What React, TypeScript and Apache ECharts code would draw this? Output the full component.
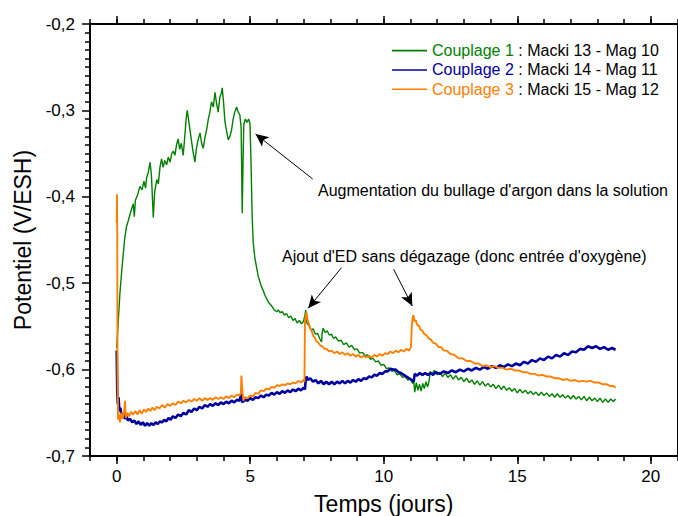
import React, { useEffect, useRef } from "react";
import * as echarts from "echarts";

const FONT = '"Liberation Sans", Arial, sans-serif';

const seriesNames = ["Couplage 1", "Couplage 2", "Couplage 3"];
const seriesDescs = [" : Macki 13 - Mag 10", " : Macki 14 - Mag 11", " : Macki 15 - Mag 12"];
const seriesColors = ["#008000", "#0000a0", "#ff8000"];
const seriesWidths = [1.4, 2.6, 1.9];

const xMajorTicks = [0, 5, 10, 15, 20];
const xMinorTicks = [-1, 0, 1, 2, 3, 4, 5, 6, 7, 8, 9, 10, 11, 12, 13, 14, 15, 16, 17, 18, 19, 20, 21];

// Couplage 1 : Macki 13 - Mag 10  [jours, V/ESH]
const couplage1: [number, number][] = [
  [0, -0.575], [0.03, -0.56], [0.06, -0.543], [0.12, -0.512], [0.19, -0.485], [0.25, -0.465],
  [0.3, -0.448], [0.37, -0.434], [0.43, -0.428], [0.5, -0.42], [0.56, -0.414], [0.62, -0.408],
  [0.66, -0.423], [0.7, -0.404], [0.78, -0.398], [0.87, -0.388], [0.95, -0.392], [1.02, -0.382],
  [1.08, -0.39], [1.12, -0.378], [1.18, -0.372], [1.25, -0.36], [1.3, -0.375], [1.37, -0.424],
  [1.42, -0.395], [1.5, -0.38], [1.56, -0.385], [1.62, -0.366], [1.68, -0.356], [1.74, -0.366],
  [1.8, -0.358], [1.87, -0.363], [1.93, -0.354], [2.0, -0.36], [2.06, -0.35], [2.12, -0.347],
  [2.18, -0.352], [2.24, -0.34], [2.3, -0.333], [2.36, -0.345], [2.42, -0.338], [2.49, -0.352],
  [2.55, -0.33], [2.6, -0.31], [2.64, -0.3], [2.69, -0.31], [2.74, -0.322], [2.8, -0.335],
  [2.86, -0.348], [2.93, -0.36], [2.98, -0.345], [3.04, -0.335], [3.12, -0.326], [3.18, -0.338],
  [3.24, -0.344], [3.3, -0.332], [3.37, -0.322], [3.43, -0.31], [3.49, -0.302], [3.55, -0.29],
  [3.62, -0.296], [3.68, -0.279], [3.74, -0.292], [3.8, -0.302], [3.86, -0.285], [3.92, -0.28],
  [3.95, -0.274], [4.0, -0.29], [4.05, -0.312], [4.12, -0.325], [4.18, -0.334], [4.24, -0.33],
  [4.3, -0.323], [4.36, -0.31], [4.42, -0.302], [4.49, -0.296], [4.55, -0.302], [4.61, -0.305],
  [4.66, -0.32], [4.7, -0.419], [4.73, -0.36], [4.76, -0.316], [4.82, -0.31], [4.88, -0.314],
  [4.94, -0.31], [4.99, -0.315], [5.03, -0.36], [5.07, -0.42], [5.11, -0.452], [5.17, -0.47],
  [5.24, -0.482], [5.3, -0.492], [5.36, -0.498], [5.42, -0.504], [5.48, -0.508], [5.55, -0.514],
  [5.62, -0.518], [5.68, -0.522], [5.74, -0.524], [5.82, -0.527], [5.9, -0.531], [5.99, -0.533],
  [6.05, -0.531], [6.12, -0.534], [6.2, -0.533], [6.28, -0.537], [6.36, -0.535], [6.44, -0.54],
  [6.52, -0.538], [6.6, -0.543], [6.68, -0.541], [6.76, -0.546], [6.84, -0.543], [6.92, -0.547],
  [7.0, -0.544], [7.05, -0.537], [7.08, -0.531], [7.12, -0.546], [7.2, -0.549], [7.28, -0.554],
  [7.36, -0.553], [7.44, -0.559], [7.52, -0.558], [7.6, -0.564], [7.67, -0.568], [7.7, -0.556],
  [7.73, -0.552], [7.8, -0.557], [7.88, -0.555], [7.96, -0.56], [8.04, -0.559], [8.12, -0.564],
  [8.2, -0.562], [8.3, -0.567], [8.4, -0.566], [8.5, -0.571], [8.6, -0.569], [8.7, -0.574],
  [8.8, -0.572], [8.9, -0.577], [9.0, -0.576], [9.1, -0.581], [9.2, -0.58], [9.3, -0.584],
  [9.4, -0.583], [9.5, -0.588], [9.6, -0.587], [9.7, -0.591], [9.8, -0.59], [9.9, -0.595],
  [10.0, -0.594], [10.1, -0.599], [10.2, -0.598], [10.3, -0.602], [10.4, -0.601], [10.5, -0.606],
  [10.6, -0.605], [10.7, -0.609], [10.8, -0.608], [10.9, -0.612], [11.0, -0.611], [11.08, -0.616],
  [11.12, -0.612], [11.16, -0.626], [11.22, -0.615], [11.28, -0.624], [11.34, -0.617], [11.4, -0.625],
  [11.46, -0.616], [11.52, -0.622], [11.58, -0.614], [11.64, -0.62], [11.7, -0.613], [11.74, -0.602],
  [11.8, -0.605], [11.9, -0.601], [12.0, -0.606], [12.1, -0.603], [12.2, -0.608], [12.3, -0.604],
  [12.4, -0.609], [12.5, -0.606], [12.6, -0.611], [12.7, -0.607], [12.8, -0.612], [12.9, -0.609],
  [13.0, -0.614], [13.1, -0.61], [13.2, -0.615], [13.3, -0.612], [13.4, -0.617], [13.5, -0.613],
  [13.6, -0.618], [13.7, -0.614], [13.8, -0.619], [13.9, -0.616], [14.0, -0.62], [14.1, -0.617],
  [14.2, -0.622], [14.3, -0.618], [14.4, -0.623], [14.5, -0.619], [14.6, -0.624], [14.7, -0.621],
  [14.8, -0.625], [14.9, -0.622], [15.0, -0.627], [15.1, -0.623], [15.2, -0.627], [15.3, -0.624],
  [15.4, -0.628], [15.5, -0.625], [15.6, -0.629], [15.7, -0.626], [15.8, -0.63], [15.9, -0.626],
  [16.0, -0.63], [16.1, -0.627], [16.2, -0.631], [16.3, -0.628], [16.4, -0.632], [16.5, -0.628],
  [16.6, -0.632], [16.7, -0.629], [16.8, -0.633], [16.9, -0.63], [17.0, -0.634], [17.1, -0.63],
  [17.2, -0.634], [17.3, -0.631], [17.4, -0.635], [17.5, -0.631], [17.6, -0.636], [17.7, -0.632],
  [17.8, -0.636], [17.9, -0.633], [18.0, -0.637], [18.1, -0.633], [18.2, -0.638], [18.3, -0.634],
  [18.4, -0.638], [18.5, -0.634], [18.6, -0.637], [18.68, -0.634],
];

// Couplage 2 : Macki 14 - Mag 11
const couplage2: [number, number][] = [
  [0, -0.578], [0.02, -0.625], [0.04, -0.64], [0.07, -0.632], [0.1, -0.648], [0.14, -0.644],
  [0.18, -0.655], [0.24, -0.651], [0.3, -0.657], [0.36, -0.654], [0.42, -0.659], [0.5, -0.657],
  [0.58, -0.661], [0.66, -0.659], [0.74, -0.663], [0.82, -0.66], [0.9, -0.664], [0.98, -0.661],
  [1.06, -0.665], [1.14, -0.662], [1.22, -0.665], [1.3, -0.662], [1.38, -0.664], [1.46, -0.661],
  [1.54, -0.663], [1.62, -0.66], [1.7, -0.661], [1.78, -0.658], [1.86, -0.66], [1.94, -0.656],
  [2.02, -0.658], [2.1, -0.654], [2.2, -0.656], [2.3, -0.652], [2.4, -0.654], [2.5, -0.65],
  [2.6, -0.652], [2.7, -0.647], [2.8, -0.649], [2.9, -0.645], [3.0, -0.647], [3.1, -0.643],
  [3.2, -0.645], [3.3, -0.641], [3.4, -0.643], [3.5, -0.64], [3.6, -0.642], [3.7, -0.639],
  [3.8, -0.641], [3.9, -0.638], [4.0, -0.64], [4.1, -0.637], [4.2, -0.639], [4.3, -0.636],
  [4.4, -0.638], [4.5, -0.635], [4.6, -0.636], [4.66, -0.628], [4.7, -0.638], [4.8, -0.635],
  [4.9, -0.636], [5.0, -0.633], [5.1, -0.635], [5.2, -0.632], [5.3, -0.633], [5.4, -0.63],
  [5.5, -0.632], [5.6, -0.629], [5.7, -0.63], [5.8, -0.627], [5.9, -0.629], [6.0, -0.626],
  [6.1, -0.628], [6.2, -0.625], [6.3, -0.627], [6.4, -0.624], [6.5, -0.626], [6.6, -0.623],
  [6.7, -0.625], [6.8, -0.622], [6.9, -0.624], [7.0, -0.621], [7.05, -0.623], [7.08, -0.611],
  [7.11, -0.608], [7.16, -0.612], [7.25, -0.61], [7.35, -0.614], [7.45, -0.612], [7.55, -0.616],
  [7.65, -0.613], [7.75, -0.617], [7.85, -0.614], [7.95, -0.617], [8.05, -0.614], [8.15, -0.617],
  [8.25, -0.614], [8.35, -0.616], [8.45, -0.613], [8.55, -0.616], [8.65, -0.613], [8.75, -0.615],
  [8.85, -0.612], [8.95, -0.614], [9.05, -0.611], [9.15, -0.613], [9.25, -0.61], [9.35, -0.611],
  [9.45, -0.608], [9.55, -0.609], [9.65, -0.606], [9.75, -0.607], [9.85, -0.604], [9.95, -0.605],
  [10.05, -0.602], [10.15, -0.602], [10.25, -0.599], [10.35, -0.6], [10.45, -0.6], [10.55, -0.603],
  [10.65, -0.604], [10.75, -0.606], [10.85, -0.608], [10.95, -0.61], [11.05, -0.612], [11.12, -0.614],
  [11.16, -0.605], [11.25, -0.607], [11.35, -0.604], [11.45, -0.606], [11.55, -0.604], [11.65, -0.606],
  [11.75, -0.604], [11.85, -0.606], [11.95, -0.603], [12.1, -0.605], [12.25, -0.602], [12.4, -0.604],
  [12.55, -0.601], [12.7, -0.603], [12.85, -0.6], [13.0, -0.602], [13.15, -0.599], [13.3, -0.601],
  [13.45, -0.598], [13.6, -0.6], [13.75, -0.597], [13.9, -0.599], [14.05, -0.596], [14.2, -0.598],
  [14.35, -0.595], [14.5, -0.597], [14.65, -0.594], [14.8, -0.596], [14.95, -0.593], [15.1, -0.595],
  [15.25, -0.591], [15.4, -0.593], [15.55, -0.589], [15.7, -0.591], [15.85, -0.587], [16.0, -0.589],
  [16.15, -0.585], [16.3, -0.587], [16.45, -0.583], [16.6, -0.585], [16.75, -0.581], [16.9, -0.583],
  [17.05, -0.579], [17.2, -0.58], [17.35, -0.576], [17.5, -0.577], [17.65, -0.573], [17.8, -0.575],
  [17.95, -0.573], [18.1, -0.576], [18.25, -0.574], [18.4, -0.577], [18.55, -0.575], [18.68, -0.577],
];

// Couplage 3 : Macki 15 - Mag 12
const couplage3: [number, number][] = [
  [0, -0.43], [0.01, -0.397], [0.02, -0.44], [0.03, -0.6], [0.05, -0.658], [0.08, -0.652],
  [0.12, -0.661], [0.17, -0.65], [0.22, -0.657], [0.28, -0.648], [0.31, -0.636], [0.34, -0.656],
  [0.4, -0.65], [0.46, -0.654], [0.54, -0.649], [0.62, -0.652], [0.7, -0.648], [0.78, -0.652],
  [0.86, -0.647], [0.94, -0.651], [1.02, -0.646], [1.1, -0.649], [1.18, -0.645], [1.26, -0.648],
  [1.34, -0.644], [1.42, -0.647], [1.5, -0.643], [1.6, -0.645], [1.7, -0.641], [1.8, -0.644],
  [1.9, -0.64], [2.0, -0.642], [2.1, -0.639], [2.2, -0.641], [2.3, -0.637], [2.4, -0.639],
  [2.5, -0.636], [2.6, -0.638], [2.7, -0.635], [2.8, -0.637], [2.9, -0.634], [3.0, -0.636],
  [3.1, -0.633], [3.2, -0.636], [3.3, -0.633], [3.4, -0.635], [3.5, -0.633], [3.6, -0.635],
  [3.7, -0.632], [3.8, -0.634], [3.9, -0.632], [4.0, -0.634], [4.1, -0.631], [4.2, -0.633],
  [4.3, -0.63], [4.4, -0.632], [4.5, -0.629], [4.6, -0.63], [4.65, -0.627], [4.67, -0.607],
  [4.7, -0.622], [4.74, -0.636], [4.8, -0.632], [4.9, -0.633], [5.0, -0.63], [5.1, -0.631],
  [5.2, -0.627], [5.3, -0.628], [5.4, -0.624], [5.5, -0.625], [5.6, -0.622], [5.7, -0.623],
  [5.8, -0.62], [5.9, -0.621], [6.0, -0.618], [6.1, -0.619], [6.2, -0.617], [6.3, -0.618],
  [6.4, -0.616], [6.5, -0.617], [6.6, -0.615], [6.7, -0.616], [6.8, -0.613], [6.9, -0.615],
  [7.0, -0.612], [7.03, -0.614], [7.05, -0.545], [7.08, -0.537], [7.11, -0.534], [7.15, -0.543],
  [7.2, -0.547], [7.25, -0.553], [7.3, -0.555], [7.36, -0.561], [7.42, -0.563], [7.48, -0.567],
  [7.55, -0.569], [7.62, -0.572], [7.7, -0.573], [7.78, -0.576], [7.86, -0.576], [7.95, -0.579],
  [8.05, -0.578], [8.15, -0.581], [8.25, -0.579], [8.35, -0.582], [8.45, -0.58], [8.55, -0.583],
  [8.65, -0.581], [8.75, -0.584], [8.85, -0.582], [8.95, -0.585], [9.05, -0.583], [9.15, -0.586],
  [9.25, -0.584], [9.35, -0.586], [9.45, -0.584], [9.55, -0.586], [9.65, -0.583], [9.75, -0.585],
  [9.85, -0.582], [9.95, -0.584], [10.05, -0.581], [10.15, -0.582], [10.25, -0.579], [10.35, -0.581],
  [10.45, -0.578], [10.55, -0.58], [10.65, -0.577], [10.75, -0.579], [10.85, -0.576], [10.95, -0.578],
  [11.02, -0.574], [11.05, -0.55], [11.08, -0.54], [11.11, -0.537], [11.15, -0.544], [11.2, -0.543],
  [11.26, -0.549], [11.32, -0.549], [11.38, -0.554], [11.45, -0.555], [11.52, -0.559], [11.6, -0.56],
  [11.68, -0.564], [11.76, -0.565], [11.85, -0.569], [11.95, -0.57], [12.05, -0.574], [12.15, -0.574],
  [12.25, -0.578], [12.35, -0.578], [12.5, -0.582], [12.65, -0.583], [12.8, -0.587], [12.95, -0.587],
  [13.1, -0.59], [13.25, -0.59], [13.4, -0.593], [13.55, -0.593], [13.7, -0.596], [13.85, -0.595],
  [14.0, -0.597], [14.15, -0.596], [14.3, -0.598], [14.45, -0.598], [14.6, -0.6], [14.75, -0.599],
  [14.9, -0.601], [15.05, -0.601], [15.2, -0.603], [15.35, -0.603], [15.5, -0.605], [15.65, -0.605],
  [15.8, -0.607], [15.95, -0.606], [16.1, -0.608], [16.25, -0.608], [16.4, -0.61], [16.55, -0.61],
  [16.7, -0.612], [16.85, -0.611], [17.0, -0.613], [17.15, -0.612], [17.3, -0.614], [17.45, -0.613],
  [17.6, -0.614], [17.75, -0.613], [17.9, -0.615], [18.05, -0.615], [18.2, -0.617], [18.35, -0.617],
  [18.5, -0.619], [18.6, -0.619], [18.68, -0.621],
];

const seriesData = [couplage1, couplage2, couplage3];

// annotation arrows, in data coordinates: [fromX, fromY, tipX, tipY]
const arrows: [number, number, number, number][] = [
  [7.34, -0.3794, 5.2, -0.3273],
  [8.42, -0.482, 7.17, -0.529],
  [10.37, -0.4839, 11.07, -0.5264],
];
const annotationTexts = [
  "Augmentation du bullage d'argon dans la solution",
  "Ajout d'ED sans dégazage (donc entrée d'oxygène)",
];

export default function App() {
  const ref = useRef<HTMLDivElement>(null);
  useEffect(() => {
    document.body.style.margin = "0";
    if (!ref.current) return;
    const chart = echarts.init(ref.current, undefined, { renderer: "svg" });
    const axisLine = { show: true, onZero: false, lineStyle: { color: "#000", width: 2 } };
    const tickStyle = { color: "#000", width: 1.5 };
    const xBase = { type: "value", min: -1, max: 21, splitLine: { show: false } };
    const rich: any = { d: { color: "#000", fontSize: 16, fontFamily: FONT, lineHeight: 19.3 } };
    seriesColors.forEach((c, i) => {
      rich["c" + i] = { color: c, fontSize: 16, fontFamily: FONT, lineHeight: 19.3 };
    });
    chart.setOption({
      animation: false,
      grid: { left: 90, right: 0.5, top: 24, bottom: 60, containLabel: false, outerBoundsMode: "none" },
      legend: {
        data: seriesNames.map((name, i) => ({
          name,
          icon: "rect",
          itemStyle: { color: seriesColors[i] },
        })),
        orient: "vertical",
        left: 392,
        top: 41,
        padding: 0,
        itemWidth: 35,
        itemHeight: 1.6,
        itemGap: 0,
        selectedMode: false,
        formatter: (name: string) => {
          const i = seriesNames.indexOf(name);
          return `{c${i}|${name}}{d|${seriesDescs[i]}}`;
        },
        textStyle: { fontSize: 16, fontFamily: FONT, lineHeight: 19.3, rich },
      },
      xAxis: [
        {
          ...xBase,
          position: "bottom",
          axisLine,
          axisTick: { show: true, inside: false, length: 8, customValues: xMajorTicks, lineStyle: tickStyle },
          axisLabel: { show: true, customValues: xMajorTicks, fontSize: 17, color: "#000", fontFamily: FONT, margin: 12 },
          name: "Temps (jours)",
          nameLocation: "middle",
          nameGap: 36,
          nameTextStyle: { fontSize: 23, color: "#000", fontFamily: FONT },
        },
        {
          ...xBase,
          position: "bottom",
          axisLine: { show: false },
          axisTick: { show: true, inside: false, length: 5, customValues: xMinorTicks, lineStyle: tickStyle },
          axisLabel: { show: false },
        },
        {
          ...xBase,
          position: "top",
          axisLine,
          axisTick: { show: true, inside: false, length: 8, customValues: xMajorTicks, lineStyle: tickStyle },
          axisLabel: { show: false },
        },
        {
          ...xBase,
          position: "top",
          axisLine: { show: false },
          axisTick: { show: true, inside: false, length: 5, customValues: xMinorTicks, lineStyle: tickStyle },
          axisLabel: { show: false },
        },
      ],
      yAxis: [
        {
          type: "value",
          position: "left",
          min: -0.7,
          max: -0.2,
          interval: 0.1,
          axisLine,
          axisTick: { show: true, inside: false, length: 8, lineStyle: tickStyle },
          minorTick: { show: true, splitNumber: 10, length: 5, lineStyle: tickStyle },
          axisLabel: {
            formatter: (v: number) => v.toFixed(1).replace(".", ","),
            fontSize: 17,
            color: "#000",
            fontFamily: FONT,
            margin: 15,
          },
          splitLine: { show: false },
          minorSplitLine: { show: false },
          name: "Potentiel (V/ESH)",
          nameLocation: "middle",
          nameGap: 56,
          nameRotate: 90,
          nameTextStyle: { fontSize: 23, color: "#000", fontFamily: FONT },
        },
        {
          type: "value",
          position: "right",
          min: -0.7,
          max: -0.2,
          axisLine,
          axisTick: { show: false },
          axisLabel: { show: false },
          splitLine: { show: false },
        },
      ],
      series: seriesNames.map((name, i) => ({
        name,
        type: "line",
        xAxisIndex: 0,
        yAxisIndex: 0,
        data: seriesData[i],
        symbol: "none",
        showSymbol: false,
        color: seriesColors[i],
        lineStyle: { color: seriesColors[i], width: seriesWidths[i] },
        emphasis: { disabled: true },
        z: 2 + i,
        markLine:
          i === 0
            ? {
                silent: true,
                symbol: ["none", "arrow"],
                symbolSize: [9, 13],
                label: { show: false },
                lineStyle: { color: "#000", width: 1, type: "solid" },
                itemStyle: { color: "#000" },
                emphasis: { disabled: true },
                data: arrows.map((a) => [{ coord: [a[0], a[1]] }, { coord: [a[2], a[3]] }]),
              }
            : undefined,
      })),
      graphic: [
        {
          type: "text",
          x: 318,
          y: 190,
          style: { text: annotationTexts[0], fill: "#000", font: `16px ${FONT}`, verticalAlign: "middle" },
        },
        {
          type: "text",
          x: 282,
          y: 256,
          style: { text: annotationTexts[1], fill: "#000", font: `16px ${FONT}`, verticalAlign: "middle" },
        },
      ],
    });
    return () => chart.dispose();
  }, []);
  return <div ref={ref} style={{ width: 678, height: 516 }} />;
}
